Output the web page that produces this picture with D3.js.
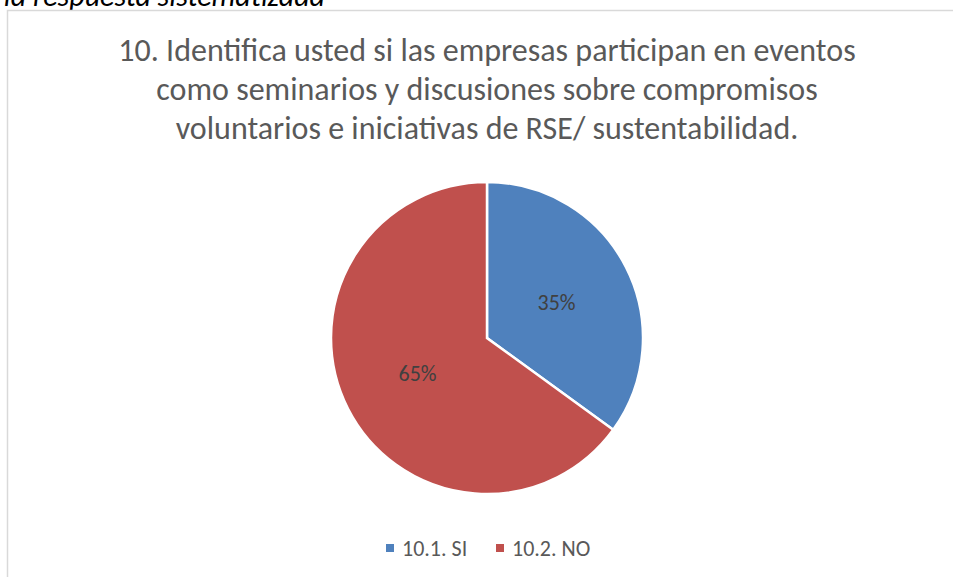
<!DOCTYPE html>
<html>
<head>
<meta charset="utf-8">
<title>Pie RSE</title>
<style>
  body { margin: 0; background: #fff; font-family: Carlito, Lato, "Liberation Sans", Arial, sans-serif; }
  .title { fill: #595959; font-size: 32px; }
  .slice-label { fill: #404040; font-size: 22px; }
  .legend text { fill: #595959; font-size: 22px; }
  .caption { font-style: italic; font-size: 30px; fill: #000; }
</style>
</head>
<body>
<script src="https://d3js.org/d3.v7.min.js"></script>
<script>
var categories = ["10.1. SI", "10.2. NO"];
var values = [35, 65];
var colors = ["#4f81bd", "#c0504d"];
var titleLines = [
  "10. Identifica usted si las empresas participan en eventos",
  "como seminarios y discusiones sobre compromisos",
  "voluntarios e iniciativas de RSE/ sustentabilidad."
];

var width = 953, height = 577;
var cx = 487, cy = 338, radius = 156;

var svg = d3.select("body").append("svg")
  .attr("width", width)
  .attr("height", height);

// text cut off above the chart
svg.append("text")
  .attr("class", "caption")
  .attr("x", 325)
  .attr("y", 6)
  .attr("text-anchor", "end")
  .text("la respuesta sistematizada");

// chart frame
svg.append("rect")
  .attr("x", 7.5).attr("y", 10.5)
  .attr("width", 960).attr("height", 580)
  .attr("fill", "none")
  .attr("stroke", "#d9d9d9")
  .attr("stroke-width", 1.5);

svg.selectAll(".title")
  .data(titleLines)
  .enter().append("text")
  .attr("class", "title")
  .attr("x", cx)
  .attr("y", function(d, i) { return 61 + i * 39; })
  .attr("text-anchor", "middle")
  .text(function(d) { return d; });

var data = categories.map(function(c, i) { return { name: c, value: values[i], color: colors[i] }; });

var pie = d3.pie().sort(null).value(function(d) { return d.value; });
var arc = d3.arc().innerRadius(0).outerRadius(radius);
var labelArc = d3.arc().innerRadius(radius * 0.5).outerRadius(radius * 0.5);

var g = svg.append("g").attr("transform", "translate(" + cx + "," + cy + ")");

var arcs = pie(data);

g.selectAll("path")
  .data(arcs)
  .enter().append("path")
  .attr("d", arc)
  .attr("fill", function(d) { return d.data.color; })
  .attr("stroke", "#fff")
  .attr("stroke-width", 2.5);

g.selectAll(".slice-label")
  .data(arcs)
  .enter().append("text")
  .attr("class", "slice-label")
  .attr("transform", function(d) { return "translate(" + labelArc.centroid(d) + ")"; })
  .attr("text-anchor", "middle")
  .attr("dy", "0.35em")
  .text(function(d) { return d.data.value + "%"; });

var legend = svg.append("g").attr("class", "legend");
var legendX = [386, 496];
var items = legend.selectAll("g")
  .data(data)
  .enter().append("g")
  .attr("transform", function(d, i) { return "translate(" + legendX[i] + ",548)"; });

items.append("rect")
  .attr("x", 0).attr("y", -4)
  .attr("width", 8).attr("height", 8)
  .attr("fill", function(d) { return d.color; });

items.append("text")
  .attr("x", 16)
  .attr("dy", "0.35em")
  .text(function(d) { return d.name; });
</script>
</body>
</html>
